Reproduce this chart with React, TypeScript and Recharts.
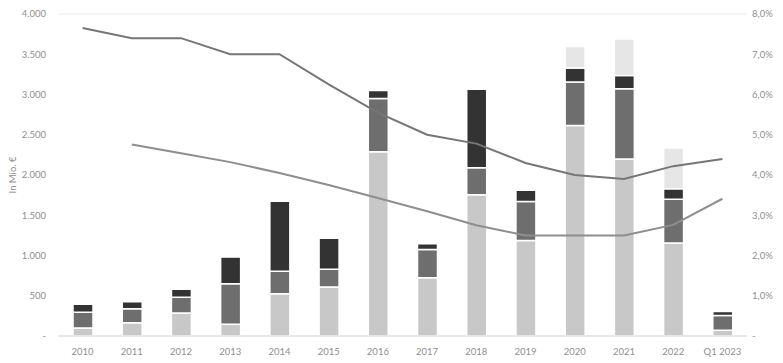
import React from "react";
import {
  ComposedChart,
  Bar,
  Line,
  XAxis,
  YAxis,
  CartesianGrid,
} from "recharts";

const categories = [
  "2010", "2011", "2012", "2013", "2014", "2015", "2016",
  "2017", "2018", "2019", "2020", "2021", "2022", "Q1 2023",
];

// stacked volumes in Mio. €
const segLight = [100, 165, 285, 145, 525, 610, 2290, 725, 1755, 1185, 2615, 2200, 1155, 70];
const segMid = [195, 175, 195, 505, 280, 220, 660, 350, 335, 485, 540, 870, 545, 185];
const segDark = [100, 85, 100, 330, 870, 385, 100, 70, 975, 140, 175, 165, 130, 50];
const segTop = [0, 0, 0, 0, 0, 0, 0, 0, 0, 0, 265, 455, 505, 0];

// rates in %
const rateUpper = [7.65, 7.4, 7.4, 7.0, 7.0, 6.25, 5.55, 5.0, 4.78, 4.3, 4.0, 3.9, 4.22, 4.4];
const rateLower = [null, 4.76, 4.54, 4.32, 4.05, 3.75, 3.43, 3.1, 2.75, 2.5, 2.5, 2.5, 2.76, 3.41];

const leftTicks = [0, 500, 1000, 1500, 2000, 2500, 3000, 3500, 4000];
const rightTicks = [0, 1, 2, 3, 4, 5, 6, 7, 8];

const data = categories.map((c, i) => ({
  name: c,
  light: segLight[i],
  mid: segMid[i],
  dark: segDark[i],
  top: segTop[i],
  upper: rateUpper[i],
  lower: rateLower[i],
}));

const fmtLeft = (v: number) =>
  v === 0 ? "-" : v.toLocaleString("de-DE");
const fmtRight = (v: number) =>
  v === 0 ? "-" : v.toFixed(1).replace(".", ",") + "%";

const tickStyle = { fill: "#8f8f8f", fontSize: 9.5, fontFamily: "Lato" };

export default function App() {
  return (
    <div style={{ position: "absolute", left: 0, top: 0, background: "#fff" }}>
      <ComposedChart
        width={783}
        height={363}
        data={data}
        margin={{ top: 14, right: 0, bottom: 0, left: 0 }}
        barSize={20}
      >
        <CartesianGrid vertical={false} stroke="#ececec" strokeWidth={1} />
        <XAxis
          dataKey="name"
          tick={tickStyle}
          axisLine={{ stroke: "#d9d9d9" }}
          tickLine={false}
          tickMargin={6}
          height={27}
        />
        <YAxis
          yAxisId="left"
          domain={[0, 4000]}
          ticks={leftTicks}
          tickFormatter={fmtLeft}
          tick={tickStyle}
          axisLine={false}
          tickLine={false}
          tickSize={0}
          tickMargin={12}
          width={58}
          label={{
            value: "In Mio. €",
            angle: -90,
            position: "insideLeft",
            offset: 13,
            style: { fill: "#8f8f8f", fontSize: 9.5, fontFamily: "Lato", textAnchor: "middle" },
          }}
        />
        <YAxis
          yAxisId="right"
          orientation="right"
          domain={[0, 8]}
          ticks={rightTicks}
          tickFormatter={fmtRight}
          tick={tickStyle}
          axisLine={false}
          tickLine={false}
          tickSize={0}
          tickMargin={5}
          width={36}
        />
        <Bar yAxisId="left" dataKey="light" stackId="a" fill="#c8c8c8" stroke="#fff" strokeWidth={1.5} isAnimationActive={false} />
        <Bar yAxisId="left" dataKey="mid" stackId="a" fill="#6e6e6e" stroke="#fff" strokeWidth={1.5} isAnimationActive={false} />
        <Bar yAxisId="left" dataKey="dark" stackId="a" fill="#333333" stroke="#fff" strokeWidth={1.5} isAnimationActive={false} />
        <Bar yAxisId="left" dataKey="top" stackId="a" fill="#e6e6e6" stroke="#fff" strokeWidth={1.5} isAnimationActive={false} />
        <Line yAxisId="right" dataKey="upper" type="linear" stroke="#767676" strokeWidth={2} dot={false} isAnimationActive={false} />
        <Line yAxisId="right" dataKey="lower" type="linear" stroke="#8e8e8e" strokeWidth={2} dot={false} connectNulls={false} isAnimationActive={false} />
      </ComposedChart>
    </div>
  );
}
